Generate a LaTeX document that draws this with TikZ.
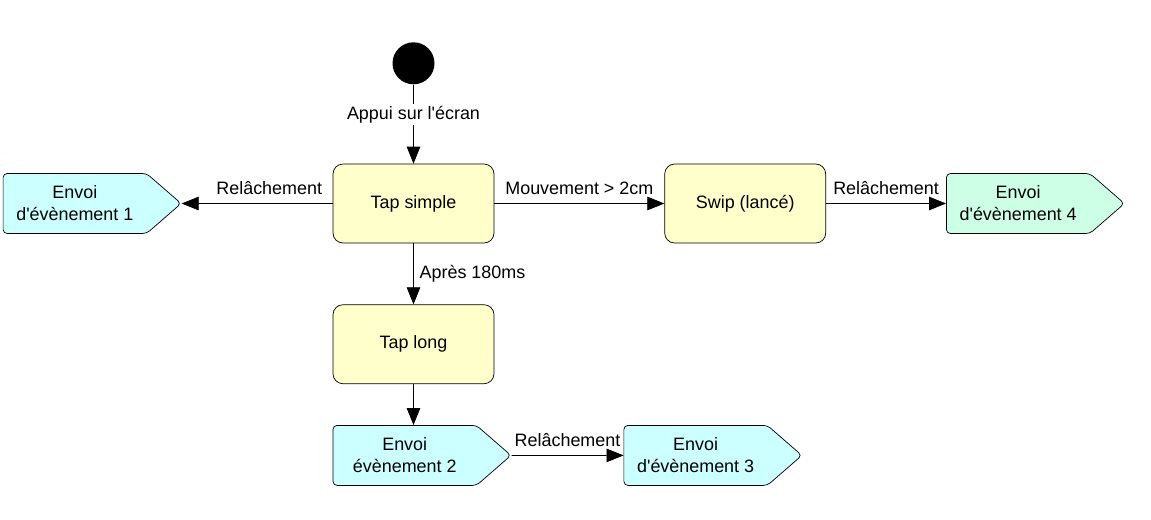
\documentclass[tikz,border=0pt]{standalone}
\usepackage{fontspec}
\setmainfont{Liberation Sans}
\usetikzlibrary{positioning, shapes.symbols, arrows.meta}
\definecolor{stateyellow}{HTML}{FFFFCC}
\definecolor{sendcyan}{HTML}{CCFFFF}
\definecolor{sendgreen}{HTML}{CCFFE6}
\tikzset{
    ->, % every connector is directed
    >={Triangle[length=3.4mm, width=2.7mm]}, % filled triangle heads
    line width=1.1pt,
    every node/.style={font=\fontsize{10.2}{12.5}\selectfont}, % Arial-like labels
    state/.style={draw, fill=stateyellow, rounded corners=2mm, minimum width=3.22cm, minimum height=1.58cm},
    sendbox/.style={draw, fill=sendcyan, signal, signal to=east, signal pointer angle=82, rounded corners=0.8mm, minimum width=3.56cm, minimum height=1.2cm, align=center, inner xsep=1pt}, % event sent
    start/.style={circle, fill=black, minimum size=0.84cm, inner sep=0pt},
}
\newcommand{\apos}{\textquotesingle}

\begin{document}
\begin{tikzpicture}
    \useasboundingbox (0,0) rectangle (23.02,-10.38);
    \node[state] (tsimple) at (8.27,-4.07) {Tap simple};
    \node[start, above=1.58cm of tsimple] (init) {};
    \node[state, right=3.4cm of tsimple] (swip) {Swip (lancé)};
    \node[state, below=1.22cm of tsimple] (tlong) {Tap long};
    \node[sendbox, left=3.02cm of tsimple] (ev1) {Envoi\\d\apos évènement 1};
    \node[sendbox, fill=sendgreen, right=2.4cm of swip] (ev4) {Envoi\\d\apos évènement 4};
    \node[sendbox, below=0.82cm of tlong.south west, anchor=north west] (ev2) {Envoi\\évènement 2};
    \node[sendbox, right=2.24cm of ev2] (ev3) {Envoi\\d\apos évènement 3};
    \draw
    (init) edge node[fill=white, inner ysep=1pt, pos=0.38]{Appui sur l\apos écran} (tsimple)
    (tsimple) edge node[above=1.7pt, pos=0.42]{Relâchement} (ev1)
    (tsimple) edge node[above=1.7pt]{Mouvement > 2cm} (swip)
    (swip) edge node[above=1.7pt]{Relâchement} (ev4)
    (tsimple) edge node[right]{Après 180ms} (tlong)
    (ev2) edge node[above=1.7pt]{Relâchement} (ev3);
    \draw (tlong.south) -- (tlong.south |- ev2.north);
\end{tikzpicture}
\end{document}
